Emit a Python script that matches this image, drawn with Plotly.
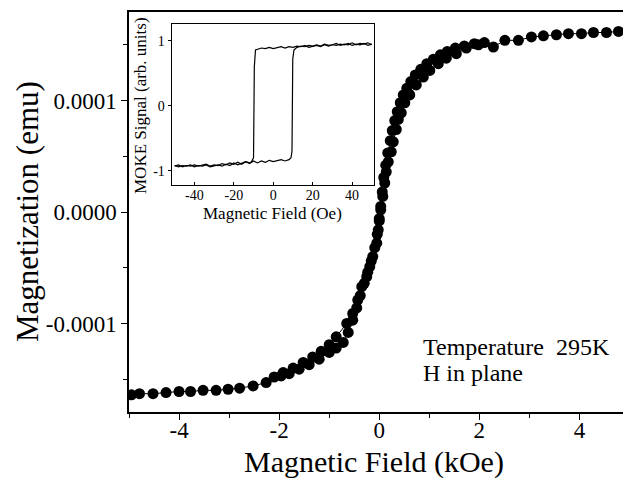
import plotly.graph_objects as go

# ---------------- main hysteresis data (field in kOe, magnetization in 1e-4 emu) ----
field_up_koe = [-4.95, -4.79, -4.52, -4.26, -4.00, -3.77, -3.52, -3.26, -3.02, -2.79,
                -2.52, -2.26, -1.96, -1.80, -1.60, -1.40, -1.20, -1.00, -0.86, -0.72,
                -0.62, -0.53, -0.45, -0.38, -0.30, -0.23, -0.16, -0.09, -0.04, 0.00,
                0.03, 0.07, 0.11, 0.14, 0.18, 0.24, 0.28, 0.34, 0.38, 0.44, 0.51,
                0.61, 0.74, 0.88, 1.01, 1.18, 1.34, 1.54, 1.74, 1.98, 2.28,
                2.51, 2.78, 3.04, 3.28, 3.54, 3.78, 4.04, 4.28, 4.54, 4.78]
mag_up_e4 = [-1.64, -1.63, -1.63, -1.62, -1.61, -1.61, -1.60, -1.60, -1.59, -1.58,
             -1.56, -1.53, -1.47, -1.45, -1.41, -1.37, -1.32, -1.26, -1.22, -1.17,
             -1.08, -0.97, -0.86, -0.75, -0.64, -0.54, -0.44, -0.32, -0.20, -0.08,
             0.02, 0.14, 0.26, 0.36, 0.45, 0.54, 0.63, 0.74, 0.83, 0.89, 0.98,
             1.05, 1.14, 1.21, 1.27, 1.33, 1.38, 1.42, 1.47, 1.50, 1.48,
             1.54, 1.54, 1.57, 1.58, 1.59, 1.60, 1.60, 1.61, 1.61, 1.62]

field_dn_koe = [2.10, 1.90, 1.70, 1.52, 1.36, 1.22, 1.08, 0.95, 0.83, 0.72,
                0.63, 0.55, 0.48, 0.42, 0.36, 0.31, 0.26, 0.22, 0.17, 0.13,
                0.09, 0.06, 0.03, 0.00, -0.02, -0.05, -0.13, -0.19, -0.25, -0.35,
                -0.43, -0.53, -0.65, -0.86, -1.00, -1.16, -1.33, -1.52, -1.72, -1.92,
                -2.10]
mag_dn_e4 = [1.52, 1.51, 1.49, 1.47, 1.44, 1.41, 1.37, 1.33, 1.28, 1.23,
             1.17, 1.11, 1.05, 0.98, 0.90, 0.82, 0.73, 0.64, 0.53, 0.42,
             0.31, 0.18, 0.05, -0.06, -0.16, -0.28, -0.40, -0.49, -0.58, -0.67,
             -0.79, -0.91, -1.00, -1.12, -1.19, -1.25, -1.30, -1.35, -1.40, -1.44,
             -1.48]

# ---------------- inset MOKE loop (field in Oe, signal in arb. units) --------------
moke_field_up_oe = [-50, -48, -46, -44, -42, -40, -38, -36, -34, -32, -30, -28, -26, -24,
                    -22, -20, -18, -16, -14, -12, -10, -8, -6, -4, -2, 0, 2, 4, 6, 8,
                    9, 9.5, 9.7, 9.9, 10.5, 12, 14, 16, 18, 20, 22, 24, 26, 28, 30, 32,
                    34, 36, 38, 40, 42, 44, 46, 48, 50]
moke_signal_up = [-0.93, -0.91, -0.94, -0.92, -0.93, -0.91, -0.93, -0.92, -0.90, -0.93,
                  -0.91, -0.92, -0.89, -0.91, -0.88, -0.90, -0.87, -0.90, -0.86, -0.89,
                  -0.85, -0.88, -0.85, -0.87, -0.84, -0.86, -0.85, -0.83, -0.85, -0.83,
                  -0.80, -0.70, 0.00, 0.72, 0.86, 0.90, 0.92, 0.91, 0.93, 0.92,
                  0.94, 0.92, 0.95, 0.93, 0.94, 0.96, 0.93, 0.95, 0.94, 0.97,
                  0.94, 0.96, 0.95, 0.97, 0.94]
moke_field_dn_oe = [50, 48, 46, 44, 42, 40, 38, 36, 34, 32, 30, 28, 26, 24, 22, 20, 18,
                    16, 14, 12, 10, 8, 6, 4, 2, 0, -2, -4, -6, -8, -9, -9.6, -9.8, -10.0,
                    -11, -12, -14, -16, -18, -20, -22, -24, -26, -28, -30, -32, -34, -36,
                    -38, -40, -42, -44, -46, -48, -50]
moke_signal_dn = [0.95, 0.93, 0.96, 0.94, 0.95, 0.93, 0.96, 0.94, 0.95, 0.93,
                  0.94, 0.92, 0.94, 0.91, 0.93, 0.92, 0.90, 0.93, 0.91, 0.92,
                  0.90, 0.91, 0.89, 0.91, 0.90, 0.88, 0.90, 0.88, 0.89, 0.87,
                  0.86, 0.60, 0.00, -0.80, -0.86, -0.88, -0.86, -0.89, -0.91, -0.88,
                  -0.92, -0.90, -0.93, -0.91, -0.92, -0.94, -0.91, -0.93, -0.92, -0.94,
                  -0.91, -0.93, -0.92, -0.94, -0.92]

main_xticks = [-4, -2, 0, 2, 4]
main_yticks = [-1e-4, 0.0, 1e-4]
main_yticktext = ["-0.0001", "0.0000", "0.0001"]
inset_xticks = [-40, -20, 0, 20, 40]
inset_xticktext = ["-40", "-20", "0", "20", "40"]
inset_yticks = [-1, 0, 1]
inset_yticktext = ["-1", "0", "1"]

SERIF = "Liberation Serif, Times New Roman, serif"
E4 = 1e-4

fig = go.Figure()

fig.add_trace(go.Scatter(
    x=field_up_koe, y=[v * E4 for v in mag_up_e4], mode="lines+markers",
    line=dict(color="black", width=1),
    marker=dict(color="black", size=11),
    xaxis="x", yaxis="y", showlegend=False))
fig.add_trace(go.Scatter(
    x=field_dn_koe, y=[v * E4 for v in mag_dn_e4], mode="lines+markers",
    line=dict(color="black", width=1),
    marker=dict(color="black", size=11),
    xaxis="x", yaxis="y", showlegend=False))

fig.add_trace(go.Scatter(
    x=moke_field_up_oe, y=moke_signal_up, mode="lines",
    line=dict(color="black", width=1.2),
    xaxis="x2", yaxis="y2", showlegend=False))
fig.add_trace(go.Scatter(
    x=moke_field_dn_oe, y=moke_signal_dn, mode="lines",
    line=dict(color="black", width=1.2),
    xaxis="x2", yaxis="y2", showlegend=False))

W, H = 623, 481
ML, MR, MT, MB = 129, 0, 12, 69
PW, PH = W - ML - MR, H - MT - MB


def px_x(px):
    return (px - ML) / PW


def px_y(py):
    return (H - MB - py) / PH


fig.update_layout(
    width=W, height=H,
    margin=dict(l=ML, r=MR, t=MT, b=MB, pad=0),
    paper_bgcolor="white", plot_bgcolor="white",
    font=dict(family=SERIF, color="black"),
    xaxis=dict(
        domain=[0, 1], range=[-5.0, 4.87], anchor="y",
        showgrid=False, zeroline=False,
        showline=True, linecolor="black", linewidth=1.5, mirror=True,
        ticks="outside", ticklen=6, tickwidth=1.2, tickcolor="black",
        tickvals=main_xticks, ticktext=[str(v) for v in main_xticks],
        tickfont=dict(family=SERIF, size=23, color="black"),
        ticklabelstandoff=-9,
        minor=dict(dtick=1, tick0=1, ticks="outside", ticklen=4, tickcolor="black", tickwidth=1),
    ),
    yaxis=dict(
        domain=[0, 1], range=[-1.794e-4, 1.794e-4], anchor="x",
        showgrid=False, zeroline=False,
        showline=True, linecolor="black", linewidth=1.5, mirror=False,
        ticks="outside", ticklen=6, tickwidth=1.2, tickcolor="black",
        tickvals=main_yticks, ticktext=main_yticktext,
        tickfont=dict(family=SERIF, size=23, color="black"),
        minor=dict(dtick=5e-5, tick0=5e-5, ticks="outside", ticklen=4, tickcolor="black", tickwidth=1),
    ),
    xaxis2=dict(
        domain=[px_x(171.7), px_x(374)], range=[-51.5, 51.1], anchor="y2",
        showgrid=False, zeroline=False,
        showline=True, linecolor="black", linewidth=1.2, mirror=True,
        ticks="inside", ticklen=3, tickcolor="black",
        tickvals=inset_xticks, ticktext=inset_xticktext,
        tickfont=dict(family=SERIF, size=14, color="black"),
        ticklabelstandoff=-3,
    ),
    yaxis2=dict(
        domain=[px_y(185), px_y(24)], range=[-1.22, 1.26], anchor="x2",
        showgrid=False, zeroline=False,
        showline=True, linecolor="black", linewidth=1.2, mirror=True,
        ticks="outside", ticklen=3, tickcolor="black",
        tickvals=inset_yticks, ticktext=inset_yticktext,
        tickfont=dict(family=SERIF, size=14, color="black"),
    ),
    annotations=[
        dict(text="Magnetization (emu)", xref="paper", yref="paper",
             x=px_x(27), y=px_y(212), xanchor="center", yanchor="middle",
             textangle=-90, showarrow=False, font=dict(family=SERIF, size=31)),
        dict(text="Magnetic Field (kOe)", xref="paper", yref="paper",
             x=px_x(374), y=px_y(481), xanchor="center", yanchor="bottom",
             showarrow=False, font=dict(family=SERIF, size=30)),
        dict(text="Magnetic Field (Oe)", xref="paper", yref="paper",
             x=px_x(272.5), y=px_y(202), xanchor="center", yanchor="top",
             showarrow=False, font=dict(family=SERIF, size=17)),
        dict(text="MOKE Signal (arb. units)", xref="paper", yref="paper",
             x=px_x(140), y=px_y(106), xanchor="center", yanchor="middle",
             textangle=-90, showarrow=False, font=dict(family=SERIF, size=17)),
        dict(text="Temperature&nbsp; 295K", xref="paper", yref="paper",
             x=px_x(421), y=px_y(347), xanchor="left", yanchor="middle",
             showarrow=False, font=dict(family=SERIF, size=24)),
        dict(text="H in plane", xref="paper", yref="paper",
             x=px_x(421), y=px_y(373), xanchor="left", yanchor="middle",
             showarrow=False, font=dict(family=SERIF, size=24)),
    ],
)

fig.write_html("out.html",
               config={"displayModeBar": False},
               post_script="document.body.style.margin='0';document.body.style.padding='0';")
